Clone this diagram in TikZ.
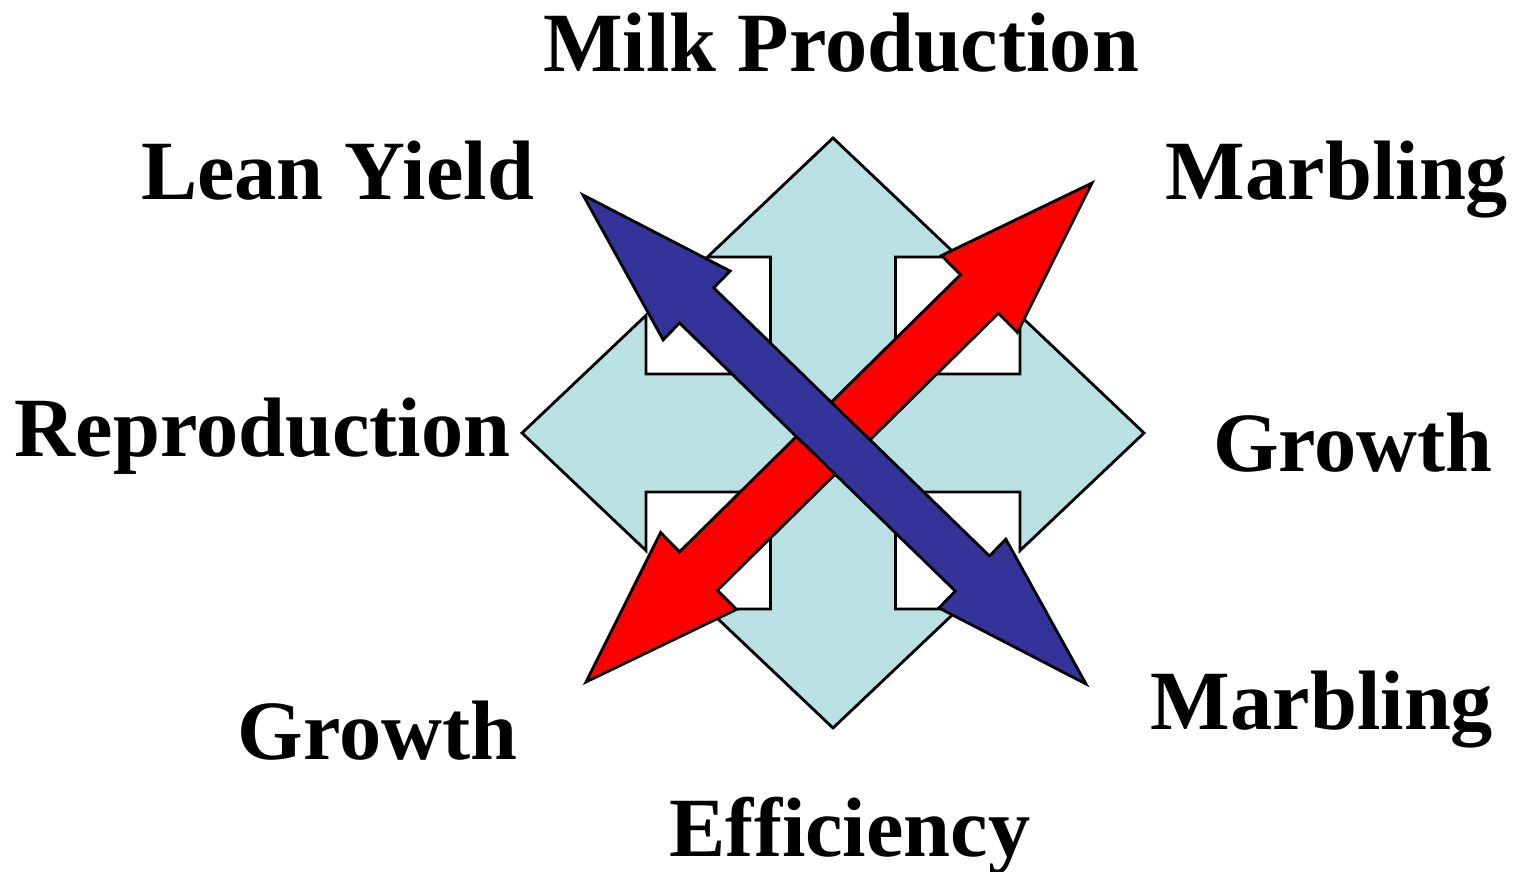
\documentclass[tikz,border=0pt]{standalone}
\usepackage{fontspec}
\setmainfont{Liberation Serif}
\usepackage{xcolor}
\definecolor{quadFill}{HTML}{B9E0E3}
\definecolor{traitBlue}{HTML}{333399}
\definecolor{traitRed}{HTML}{FF0000}
\tikzset{
    quadArrow/.style={draw=black, line width=0.8pt, fill=quadFill, line join=miter},
    blueArrow/.style={draw=black, line width=0.8pt, fill=traitBlue, line join=miter},
    redArrow/.style={draw=black, line width=0.8pt, fill=traitRed, line join=miter},
    traitLabel/.style={anchor=base, inner sep=0pt, font=\fontsize{24}{28}\selectfont\bfseries}
}
% double headed block arrow along the x axis:
% style, half length, head length, head half width, shaft half width
\newcommand{\blockArrow}[5]{%
    \draw[#1] (-#2,0) -- (-#2+#3,#4) -- (-#2+#3,#5) -- (#2-#3,#5) -- (#2-#3,#4)
        -- (#2,0) -- (#2-#3,-#4) -- (#2-#3,-#5) -- (-#2+#3,-#5) -- (-#2+#3,-#4) -- cycle;
}

\begin{document}
\begin{tikzpicture}
    \useasboundingbox (0,0) rectangle (15.15,8.72);

    % Four-way arrow in the middle
    \begin{scope}[shift={(8.33,4.39)}]
        \draw[quadArrow] (0,2.95) -- (1.255,1.76) -- (0.625,1.76) -- (0.625,0.59)
            -- (1.87,0.59) -- (1.87,1.176) -- (3.11,0) -- (1.87,-1.176) -- (1.87,-0.59)
            -- (0.625,-0.59) -- (0.625,-1.76) -- (1.255,-1.76) -- (0,-2.95)
            -- (-1.255,-1.76) -- (-0.625,-1.76) -- (-0.625,-0.59) -- (-1.87,-0.59)
            -- (-1.87,-1.176) -- (-3.11,0) -- (-1.87,1.176) -- (-1.87,0.59)
            -- (-0.625,0.59) -- (-0.625,1.76) -- (-1.255,1.76) -- cycle;
    \end{scope}

    % Crossing arrows, blue one on top
    \begin{scope}[shift={(8.39,4.395)}, rotate=44.6]
        \blockArrow{redArrow}{3.553}{1.58}{0.54}{0.27}
    \end{scope}
    \begin{scope}[shift={(8.345,4.325)}, rotate=-44.19]
        \blockArrow{blueArrow}{3.508}{1.585}{0.48}{0.245}
    \end{scope}

    % Trait labels
    \node[traitLabel] (milk) at (8.41,8.00) {Milk Production};
    \node[traitLabel] (lean) at (3.375,6.72) {Lean Yield};
    \node[traitLabel] (marblingTop) at (13.37,6.72) {Marbling};
    \node[traitLabel] (repro) at (2.625,4.15) {Reproduction};
    \node[traitLabel] (growthRight) at (13.53,4.00) {Growth};
    \node[traitLabel] (growthLeft) at (3.775,1.12) {Growth};
    \node[traitLabel] (marblingBottom) at (13.22,1.42) {Marbling};
    \node[traitLabel] (eff) at (8.50,0.15) {Efficiency};
\end{tikzpicture}
\end{document}
